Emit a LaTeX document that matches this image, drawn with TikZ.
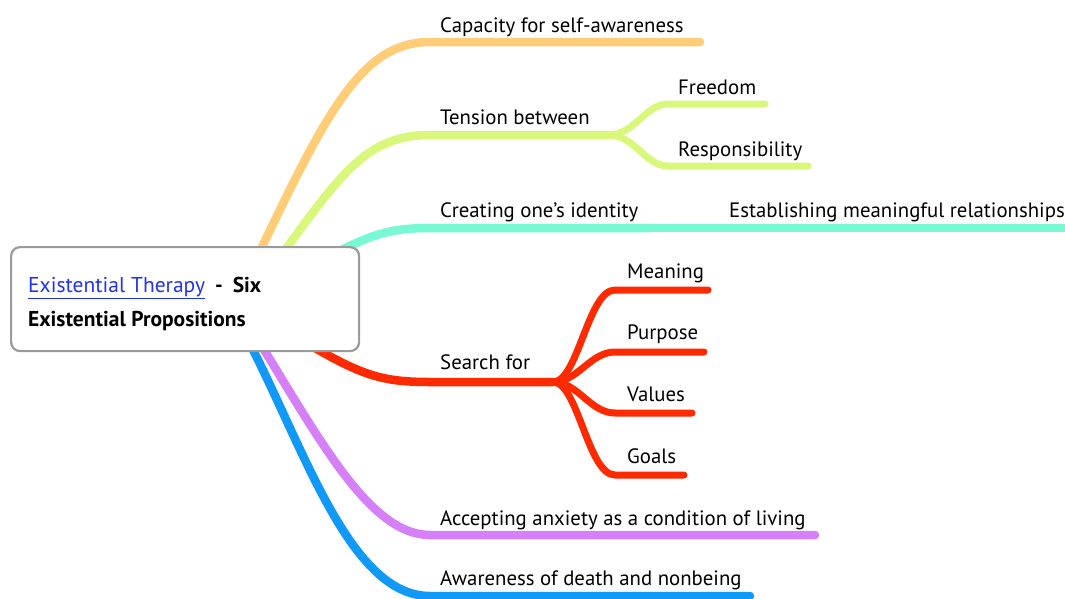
\documentclass[tikz,border=0pt]{standalone}
\usepackage{fontspec}
\setmainfont{PT Sans}
\definecolor{cOrange}{HTML}{FFCC77}
\definecolor{cGreen}{HTML}{D9F77A}
\definecolor{cTeal}{HTML}{77F9D5}
\definecolor{cRed}{HTML}{FF2A00}
\definecolor{cPurple}{HTML}{D580F8}
\definecolor{cBlue}{HTML}{1199F8}
\definecolor{cLink}{HTML}{2233EE}
\definecolor{cBorder}{HTML}{9A9A9A}
\begin{document}
\begin{tikzpicture}[x=1pt,y=-1pt,
  lbl/.style={anchor=base west,inner sep=0pt,font=\fontsize{20.8}{24}\selectfont},
  rootlbl/.style={anchor=base west,inner sep=0pt,font=\fontsize{21.5}{24}\selectfont},
  branch/.style={line width=8.5pt,line cap=round},
  subbranch/.style={line width=7pt,line cap=round},
  rootbox/.style={draw=cBorder,line width=2.2pt,fill=white,rounded corners=9pt}]
\useasboundingbox (0,0) rectangle (1065,598);
% hub coordinates
\coordinate (oS) at (252,268);
\coordinate (gS) at (272,268);
\coordinate (tS) at (318,262);
\coordinate (rS) at (298,338);
\coordinate (pS) at (258,340);
\coordinate (bS) at (248,340);
\coordinate (oE) at (700,42);
\coordinate (gH) at (608,135);
\coordinate (tH) at (650,228);
\coordinate (tE) at (1068,228);
\coordinate (rH) at (553,382);
\coordinate (pE) at (815,535);
\coordinate (bE) at (750,596);
\coordinate (frE) at (765,104);
\coordinate (reE) at (808,166);
\coordinate (meE) at (708,290);
\coordinate (puE) at (704,352);
\coordinate (vaE) at (692,413);
\coordinate (goE) at (684,475);
% main branches
\draw[branch,cOrange] (oS) .. controls (325,115) and (360,42) .. (430,42) -- (oE);
\draw[branch,cGreen] (gS) .. controls (340,175) and (365,135) .. (430,135) -- (gH);
\draw[branch,cTeal] (tS) .. controls (370,234) and (390,228) .. (430,228) -- (tH);
\draw[branch,cTeal] (tH) -- (tE);
\draw[branch,cRed] (rS) .. controls (360,375) and (380,382) .. (430,382) -- (rH);
\draw[branch,cPurple] (pS) .. controls (320,440) and (370,535) .. (430,535) -- (pE);
\draw[branch,cBlue] (bS) .. controls (305,450) and (350,596) .. (430,596) -- (bE);
% sub branches
\draw[subbranch,cGreen] (gH) .. controls (635,135) and (645,104) .. (668,104) -- (frE);
\draw[subbranch,cGreen] (gH) .. controls (635,135) and (645,166) .. (668,166) -- (reE);
\draw[subbranch,cRed] (rH) .. controls (578,382) and (588,290) .. (615,290) -- (meE);
\draw[subbranch,cRed] (rH) .. controls (578,382) and (590,352) .. (615,352) -- (puE);
\draw[subbranch,cRed] (rH) .. controls (578,382) and (590,413) .. (615,413) -- (vaE);
\draw[subbranch,cRed] (rH) .. controls (578,382) and (588,475) .. (615,475) -- (goE);
% root
\node[rootbox,minimum width=348pt,minimum height=104pt,anchor=north west,inner sep=0pt] (root) at (10,246) {};
\node[rootlbl] (rootA) at (28,292) {\textcolor{cLink}{\underline{Existential Therapy}}\hspace{10pt}\textbf{-}\hspace{10pt}\textbf{Six}};
\node[rootlbl] (rootB) at (28,326) {\textbf{Existential Propositions}};
% labels
\node[lbl] (cap) at (440,32) {Capacity for self-awareness};
\node[lbl] (ten) at (440,124) {Tension between};
\node[lbl] (fre) at (678,94) {Freedom};
\node[lbl] (res) at (678,156) {Responsibility};
\node[lbl] (cre) at (440,217) {Creating one’s identity};
\node[lbl] (est) at (729,217) {Establishing meaningful relationships};
\node[lbl] (sea) at (440,369) {Search for};
\node[lbl] (mea) at (627,278) {Meaning};
\node[lbl] (pur) at (627,339) {Purpose};
\node[lbl] (val) at (627,401) {Values};
\node[lbl] (goa) at (627,463) {Goals};
\node[lbl] (acc) at (440,525) {Accepting anxiety as a condition of living};
\node[lbl] (awa) at (440,585) {Awareness of death and nonbeing};
\end{tikzpicture}
\end{document}
